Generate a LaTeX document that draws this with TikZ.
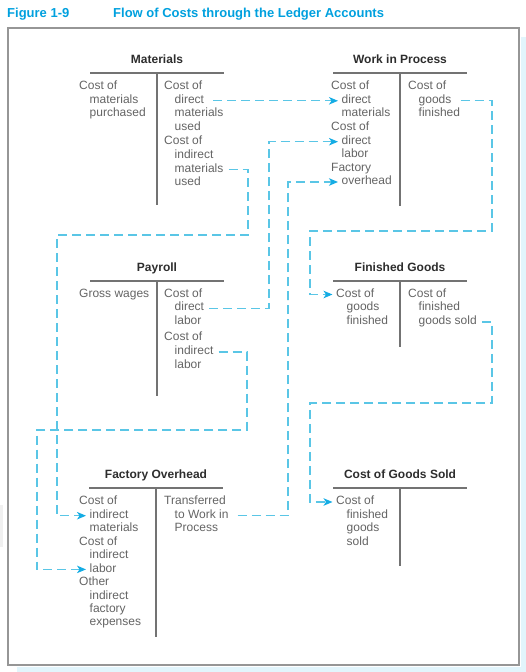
\documentclass[tikz,border=0pt]{standalone}
\usepackage{fontspec}
\setmainfont{Liberation Sans}
\usetikzlibrary{arrows.meta}
\definecolor{figblue}{RGB}{0,160,222}
\definecolor{flowblue}{RGB}{90,198,230}
\definecolor{tipblue}{RGB}{20,172,228}
\definecolor{textgray}{RGB}{100,100,100}
\definecolor{headgray}{RGB}{45,45,45}
\definecolor{rulegray}{RGB}{115,115,115}
\definecolor{framegray}{RGB}{150,150,150}
\definecolor{pageshadow}{RGB}{226,245,252}
\begin{document}
\begin{tikzpicture}[x=1pt,y=-1pt,
	acctentry/.style={anchor=mid west,inner sep=0pt,text=textgray,font=\fontsize{12}{13.5}\selectfont},
	accthead/.style={anchor=mid,inner sep=0pt,text=headgray,font=\fontsize{12}{14}\selectfont\bfseries},
	acctrule/.style={rulegray,line width=1.3pt},
	figtitle/.style={anchor=mid west,inner sep=0pt,text=figblue,font=\fontsize{13}{15}\selectfont\bfseries},
	costflow/.style={flowblue,line width=1.2pt,dash pattern=on 9pt off 5pt,shorten <=5pt,shorten >=3.5pt,
		-{Stealth[length=9pt,width=7.5pt,inset=2.5pt,color=tipblue]}}]
	\useasboundingbox (0,0) rectangle (526,672);
	\fill[pageshadow] (17,667) rectangle (526,672);
	\fill[pageshadow] (521,37) rectangle (526,672);
	\fill[gray!12] (0,505) rectangle (3,547);
	\draw[framegray,line width=1.5pt] (8,28) rectangle (519,665);

	\node(FigNo)		[figtitle] at (7,15)		{Figure 1-9};
	\node(FigName)		[figtitle] at (113,15)		{Flow of Costs through the Ledger Accounts};

	% the six T accounts
	\foreach \n/\x/\y/\b/\ttl in {Mat/157/61/205/Materials, WIP/400/61/206/Work in Process,
		Pay/157/269/396/Payroll, FG/400/269/347/Finished Goods,
		FO/156/476/637/Factory Overhead, COGS/400/476/566/Cost of Goods Sold}
	{
		\node(\n) [accthead] at (\x,\y) {\ttl};
		\draw[acctrule] (\x-67,\y+12) -- (\x+67,\y+12);
		\draw[acctrule] (\x,\y+12) -- (\x,\b);
	}

	% debit and credit sides, one node per line
	\foreach \d/\y/\txt [count=\i] in {0/87/Cost of, 1/100.8/materials, 1/114.2/purchased}
		\node(MatL\i) [acctentry] at (79+10.5*\d,\y) {\txt};
	\foreach \d/\y/\txt [count=\i] in {0/87/Cost of, 1/100.8/direct, 1/114.2/materials, 1/127.5/used,
		0/141.7/Cost of, 1/155.5/indirect, 1/169.5/materials, 1/183.2/used}
		\node(MatR\i) [acctentry] at (164+10.5*\d,\y) {\txt};
	\foreach \d/\y/\txt [count=\i] in {0/87/Cost of, 1/100.8/direct, 1/114.2/materials, 0/127.8/Cost of,
		1/141.7/direct, 1/155/labor, 0/168.5/Factory, 1/182/overhead}
		\node(WIPL\i) [acctentry] at (331+10.5*\d,\y) {\txt};
	\foreach \d/\y/\txt [count=\i] in {0/87/Cost of, 1/100.8/goods, 1/114.2/finished}
		\node(WIPR\i) [acctentry] at (408+10.5*\d,\y) {\txt};

	\node(PayL1) [acctentry] at (79,295) {Gross wages};
	\foreach \d/\y/\txt [count=\i] in {0/295/Cost of, 1/308.3/direct, 1/322/labor,
		0/338/Cost of, 1/352/indirect, 1/365.5/labor}
		\node(PayR\i) [acctentry] at (164+10.5*\d,\y) {\txt};
	\foreach \d/\y/\txt [count=\i] in {0/294.5/Cost of, 1/308.2/goods, 1/322/finished}
		\node(FGL\i) [acctentry] at (336+10.5*\d,\y) {\txt};
	\foreach \d/\y/\txt [count=\i] in {0/294.5/Cost of, 1/308.2/finished, 1/322/goods sold}
		\node(FGR\i) [acctentry] at (408+10.5*\d,\y) {\txt};

	\foreach \d/\y/\txt [count=\i] in {0/502/Cost of, 1/515.7/indirect, 1/529/materials,
		0/542.6/Cost of, 1/556/indirect, 1/569.4/labor, 0/583/Other, 1/596.4/indirect,
		1/610/factory, 1/623.3/expenses}
		\node(FOL\i) [acctentry] at (79+10.5*\d,\y) {\txt};
	\foreach \d/\y/\txt [count=\i] in {0/502/Transferred, 1/515.7/to Work in, 1/529/Process}
		\node(FOR\i) [acctentry] at (164+10.5*\d,\y) {\txt};
	\foreach \d/\y/\txt [count=\i] in {0/502/Cost of, 1/515.7/finished, 1/529/goods, 1/542.6/sold}
		\node(COGSL\i) [acctentry] at (336+10.5*\d,\y) {\txt};

	% flow of costs
	\draw[costflow,shorten <=9pt] (MatR2.mid east) -- (WIPL2.mid west);
	\draw[costflow] (MatR7.mid east) -| (248,235) -- (57,235) |- (FOL2.mid west);
	\draw[costflow] (PayR2.mid east) -| (269,250) |- (WIPL5.mid west);
	\draw[costflow] (PayR5.mid east) -| (247,430) -- (37,430) |- (FOL6.mid west);
	\draw[costflow,shorten <=9pt] (FOR2.mid east) -| (288,300) |- (WIPL8.mid west);
	\draw[costflow,shorten <=9pt] (WIPR2.mid east) -| (492,231) -- (310,231) |- (FGL1.mid west);
	\draw[costflow] (FGR3.mid east) -| (492,403) -- (310,403) |- (COGSL1.mid west);
\end{tikzpicture}
\end{document}
